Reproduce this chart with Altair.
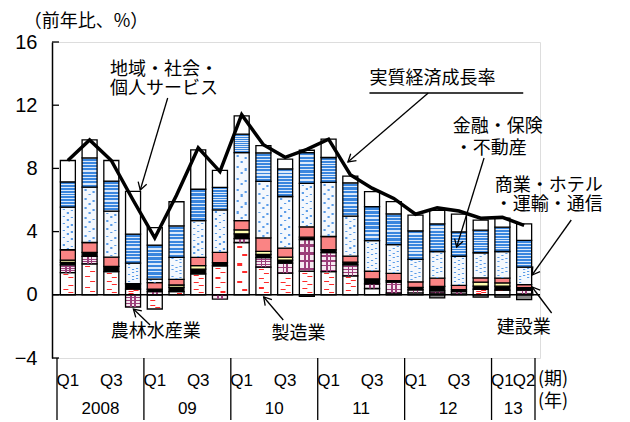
import math
import altair as alt
import pandas as pd

# ---------------- data ----------------
periods = ["2008Q1", "2008Q2", "2008Q3", "2008Q4", "2009Q1", "2009Q2", "2009Q3", "2009Q4",
           "2010Q1", "2010Q2", "2010Q3", "2010Q4", "2011Q1", "2011Q2", "2011Q3", "2011Q4",
           "2012Q1", "2012Q2", "2012Q3", "2012Q4", "2013Q1", "2013Q2"]

manufacturing = [1.4, 1.96, 1.47, 0.36, -0.9, 0.2, 1.33, 1.84, 3.31, 1.75, 1.37, 1.5,
                 1.47, 1.2, 0.4, 0.1, 0.12, 0.1, 0.05, 0.35, 0.3, 0.05]
agriculture = [0.5, 0.47, 0, -0.78, 0.2, 0, 0, -0.27, 0.25, 0.6, 0.63, 2.0,
               1.2, 0.7, 0.3, 0.7, 0.2, 0.15, 0.15, 0, 0, 0.25]
construction = [0.15, 0.25, 0.33, 0.34, 0.15, 0.27, 0.3, 0.2, 0.3, 0.2, 0.2, 0.15,
                0.18, 0.17, 0.3, 0.1, 0.15, 0.28, 0.12, 0.2, 0.25, 0.15]
construction_neg = [0, 0, 0, 0, 0, 0, 0, 0, 0, 0, 0, -0.1,
                    0, 0, 0, 0, 0, -0.2, 0, -0.15, -0.15, -0.3]
utilities = [0.15, 0, 0, 0, 0, 0.15, 0.22, 0, 0.25, 0.2, 0.18, 0,
             0, 0, 0, 0, 0, 0, 0, 0.25, 0.2, 0]
mining = [0.65, 0.63, 0.58, 0, 0.42, 0.36, 0.52, 0.64, 0.59, 0.85, 0.57, 0.65,
          0.84, 0.38, 0.49, 0.46, 0.35, 0.52, 0.28, 0.27, 0.3, 0.2]
trade = [2.7, 3.5, 2.92, 1.3, 0.22, 1.39, 2.32, 2.7, 4.3, 3.58, 3.27, 2.75,
         3.42, 2.53, 1.94, 1.82, 1.42, 1.69, 1.84, 1.59, 1.69, 1.1]
finance = [1.6, 1.85, 1.9, 1.84, 2.16, 1.99, 1.99, 1.42, 1.17, 1.8, 1.75, 1.95,
           1.58, 2.11, 2.15, 1.94, 1.81, 1.75, 1.54, 1.43, 1.54, 1.69]
services = [1.35, 1.15, 1.3, 2.7, 1.1, 1.53, 2.49, 1.07, 1.16, 0.46, 0.62, 0.15,
            1.16, 0.42, 0.95, 0.78, 0.99, 0.85, 1.12, 0.64, 0.57, 1.05]
gdp = [8.5, 9.8, 8.5, 6.0, 3.6, 6.3, 9.3, 7.8, 11.4, 9.5, 8.7, 9.2,
       9.85, 7.6, 6.75, 6.1, 5.1, 5.5, 5.3, 4.85, 4.9, 4.4]

yticks = [-4, 0, 4, 8, 12, 16]
q_labels = ["Q1", "Q3", "Q1", "Q3", "Q1", "Q3", "Q1", "Q3", "Q1", "Q3", "Q1", "Q2"]
q_index = [0, 2, 4, 6, 8, 10, 12, 14, 16, 18, 20, 21]
year_labels = ["2008", "09", "10", "11", "12", "13"]
year_index = [1.5, 5.5, 9.5, 13.5, 17.5, 20.5]
year_sep = [-0.5, 3.5, 7.5, 11.5, 15.5, 19.5, 21.5]

series = [
    ("mfg", "製造業", manufacturing),
    ("agri", "農林水産業", agriculture),
    ("cons", "建設業", construction),
    ("util", "電気・ガス・水道", utilities),
    ("mine", "鉱業", mining),
    ("trade", "商業・ホテル・運輸・通信", trade),
    ("fin", "金融・保険・不動産", finance),
    ("svc", "地域・社会・個人サービス", services),
    ("consn", "建設業", construction_neg),
]

rows = []
for o, (k, name, vals) in enumerate(series):
    for i, v in enumerate(vals):
        rows.append({"i": i, "period": periods[i], "k": k, "name": name, "o": o, "v": v})
df = pd.DataFrame(rows)
gdf = pd.DataFrame({"i": list(range(len(periods))), "gdp": gdp})

# ---------------- layout helpers ----------------
W, H = 488, 316
OX, OY = 52, 42          # page position of plot origin
XS, YS = W / 22, H / 20
JP = "Noto Sans CJK JP"
LAT = "Liberation Sans"


def dx(px):
    return -0.5 + (px - OX) / XS


def dy(py):
    return 16 - (py - OY) / YS


xscale = alt.Scale(domain=[-0.5, 21.5], nice=False, zero=False)
yscale = alt.Scale(domain=[-4, 16], nice=False, zero=False)
yaxis = alt.Axis(values=yticks, title=None, grid=False, ticks=False, tickSize=0,
                 labelPadding=15, labelFontSize=20, labelFont=LAT, labelColor="black",
                 domainColor="black", domainWidth=1.5, labelFlush=False, labelOverlap=False)


def X(f="i"):
    return alt.X(f"{f}:Q", scale=xscale, axis=None)


def Y(f):
    return alt.Y(f"{f}:Q", scale=yscale, axis=yaxis)


def grad(stops, horizontal_lines=True):
    c = {"x1": 0, "y1": 0, "x2": 0, "y2": 1} if horizontal_lines else {"x1": 0, "y1": 0, "x2": 1, "y2": 0}
    d = {"gradient": "linear", "stops": stops}
    d.update(c)
    return d


def stripes(n, on, off, duty=0.5, horizontal_lines=True, phase=0.0):
    st = []
    for j in range(n):
        a = (j + phase) / n
        b = (j + phase + duty) / n
        a = min(max(a, 0), 1)
        b = min(max(b, 0), 1)
        st += [{"offset": a, "color": off}, {"offset": a, "color": on},
               {"offset": b, "color": on}, {"offset": b, "color": off}]
    st = [{"offset": 0, "color": off}] + st + [{"offset": 1, "color": off}]
    return grad(st, horizontal_lines)


CLEAR = "rgba(255,255,255,0)"

base = alt.Chart(df).transform_stack(
    stack="v", groupby=["i"], as_=["y0", "y1"], sort=[alt.SortField("o", order="ascending")]
)


def seg(keys, fill, stroke=True, size=15, xoff=0):
    cond = " || ".join([f"datum.k == '{k}'" for k in keys])
    m = base.transform_filter(f"({cond}) && datum.v != 0")
    kw = dict(fill=fill, size=size, opacity=1)
    if stroke:
        kw.update(stroke="black", strokeWidth=1.3)
    else:
        kw.update(strokeWidth=0)
    if xoff:
        kw["xOffset"] = xoff
    return m.mark_bar(**kw).encode(x=X(), y=Y("y0"), y2="y1:Q")


RED = "#ff2a2a"
DOT = "#5a9ce8"
layers = []
# manufacturing: white with red dashes
layers.append(seg(["mfg"], "#ffffff"))
layers.append(seg(["mfg"], stripes(3, RED, CLEAR, 0.12, phase=0.2), stroke=False, size=5, xoff=-2))
layers.append(seg(["mfg"], stripes(3, RED, CLEAR, 0.12, phase=0.65), stroke=False, size=5, xoff=3))
# agriculture: purple grid
layers.append(seg(["agri"], stripes(4, "#9c3f7a", "#f7e9f1", 0.3, phase=0.6)))
layers.append(seg(["agri"], grad([
    {"offset": 0, "color": CLEAR}, {"offset": 0.3, "color": CLEAR},
    {"offset": 0.3, "color": "#9c3f7a"}, {"offset": 0.42, "color": "#9c3f7a"},
    {"offset": 0.42, "color": CLEAR}, {"offset": 0.6, "color": CLEAR},
    {"offset": 0.6, "color": "#9c3f7a"}, {"offset": 0.72, "color": "#9c3f7a"},
    {"offset": 0.72, "color": CLEAR}, {"offset": 1, "color": CLEAR}], horizontal_lines=False),
    stroke=False, size=13))
# construction: black / grey when negative
layers.append(seg(["cons"], "#000000"))
layers.append(seg(["consn"], "#8a8a8a"))
# utilities: pale yellow
layers.append(seg(["util"], "#ffffb0"))
# mining: salmon
layers.append(seg(["mine"], "#fa8484"))
# trade: white with blue dots
layers.append(seg(["trade"], "#f4f8fd"))
layers.append(seg(["trade"], stripes(6, DOT, CLEAR, 0.2, phase=0.2), stroke=False, size=2.2, xoff=-4))
layers.append(seg(["trade"], stripes(6, DOT, CLEAR, 0.2, phase=0.7), stroke=False, size=2.2, xoff=0))
layers.append(seg(["trade"], stripes(6, DOT, CLEAR, 0.2, phase=0.4), stroke=False, size=2.2, xoff=4))
# finance: blue horizontal stripes
layers.append(seg(["fin"], stripes(9, "#3a86de", "#dbe9fa", 0.62, phase=0.2)))
# services: white
layers.append(seg(["svc"], "#ffffff"))

# zero line
zero = alt.Chart(pd.DataFrame({"z": [0]})).mark_rule(color="black", strokeWidth=1.5).encode(
    y=Y("z"), x=alt.value(0), x2=alt.value(W))

# inner y ticks
ytick_layer = alt.Chart(pd.DataFrame({"t": yticks})).mark_rule(color="black", strokeWidth=1.3).encode(
    y=Y("t"), x=alt.value(0), x2=alt.value(7))

# GDP line
line = alt.Chart(gdf).mark_line(color="black", strokeWidth=3.5, strokeJoin="miter").encode(
    x=X(), y=Y("gdp"))

# year separators & axis extension below plot
sep = alt.Chart(pd.DataFrame({"s": year_sep, "a": [-4] * len(year_sep), "b": [-8.4] * len(year_sep)})).mark_rule(
    color="black", strokeWidth=1.3).encode(x=X("s"), y=Y("a"), y2="b:Q")

qtext = alt.Chart(pd.DataFrame({"i": q_index, "t": q_labels})).mark_text(
    font=LAT, fontSize=17, color="black", baseline="middle").encode(
    x=X(), y=alt.value(381 - OY), text="t:N")
ytext = alt.Chart(pd.DataFrame({"i": year_index, "t": year_labels})).mark_text(
    font=LAT, fontSize=17, color="black", baseline="middle").encode(
    x=X(), y=alt.value(409 - OY), text="t:N")

# annotations (page pixel positions converted to data units)
ann = [
    ("（前年比、%）", 18, 22),
    ("地域・社会・", 106, 70),
    ("個人サービス", 106, 89),
    ("実質経済成長率", 371, 79),
    ("金融・保険", 456, 127),
    ("・不動産", 458, 149),
    ("商業・ホテル", 499, 186),
    ("・運輸・通信", 499, 205),
    ("建設業", 501, 328),
    ("農林水産業", 107, 332),
    ("製造業", 271, 334),
    ("(期)", 543, 380),
    ("(年)", 543, 402),
]
ann_df = pd.DataFrame({"t": [a[0] for a in ann], "x": [dx(a[1]) for a in ann], "y": [dy(a[2]) for a in ann]})
ann_layer = alt.Chart(ann_df).mark_text(font=JP, fontSize=18, color="black", align="left",
                                        baseline="middle").encode(x=X("x"), y=Y("y"), text="t:N")

arrows = [
    ((165, 98), (137, 190)),
    ((431, 93), (349, 162)),
    ((488, 158), (460, 247)),
    ((577, 220), (537, 275)),
    ((557, 313), (537, 287)),
    ((283, 320), (263, 297)),
    ((147, 325), (130, 309)),
]
lines_px = arrows + [((371, 93), (528, 93))]
rule_df = pd.DataFrame({
    "x": [dx(a[0][0]) for a in lines_px], "y": [dy(a[0][1]) for a in lines_px],
    "x2": [dx(a[1][0]) for a in lines_px], "y2": [dy(a[1][1]) for a in lines_px]})
rule_layer = alt.Chart(rule_df).mark_rule(color="black", strokeWidth=1.3).encode(
    x=X("x"), y=Y("y"), x2="x2:Q", y2="y2:Q")

head_df = pd.DataFrame({
    "x": [dx(a[1][0]) for a in arrows], "y": [dy(a[1][1]) for a in arrows],
    "a": [math.degrees(math.atan2(a[1][1] - a[0][1], a[1][0] - a[0][0])) % 360 for a in arrows]})
head_layer = alt.Chart(head_df).mark_point(
    shape="M -1 -0.6 L 0 0 L -1 0.6", filled=False, stroke="black", strokeWidth=1.3,
    size=220, opacity=1).encode(x=X("x"), y=Y("y"), angle=alt.Angle("a:Q", scale=None))

chart = alt.layer(*layers, zero, ytick_layer, line, sep, qtext, ytext, ann_layer, rule_layer, head_layer).properties(
    width=W, height=H,
    autosize=alt.AutoSizeParams(type="none"),
    padding={"left": OX - 8, "top": OY - 8, "right": 74, "bottom": 62},
).configure_view(stroke=None).configure(background="white")

chart.save("out.html", embed_options={"renderer": "svg", "actions": False})
